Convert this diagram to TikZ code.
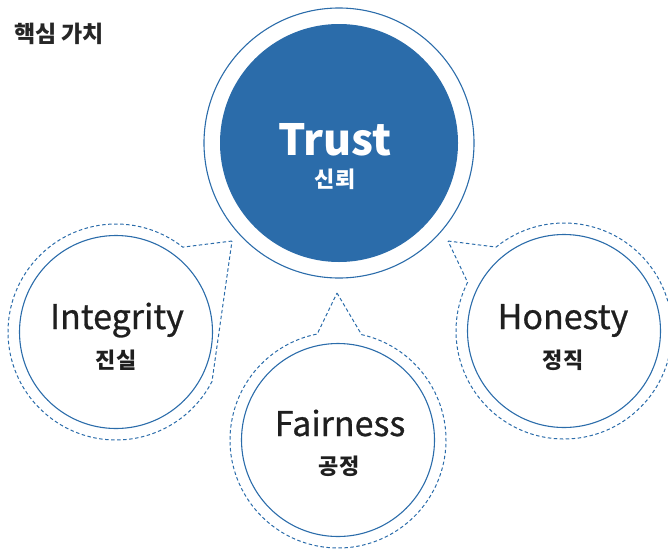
\documentclass[tikz,border=0pt]{standalone}
\usepackage{fontspec}
\setmainfont{Noto Sans CJK KR}
\newfontfamily\wordfont[FakeBold=0.8]{Noto Sans CJK KR}
\definecolor{valueblue}{RGB}{43,108,170}
\begin{document}
\begin{tikzpicture}[x=1pt,y=-1pt]
    \tikzstyle{ring}=[circle, draw=valueblue, line width=1.1pt, inner sep=0pt]
    \tikzstyle{bubble}=[draw=valueblue, line width=1pt, dash pattern=on 3.5pt off 2.5pt]
    \tikzstyle{word}=[anchor=base, inner sep=0pt, font=\wordfont\fontsize{34}{36}\selectfont]
    \tikzstyle{hangul}=[inner sep=0pt, font=\bfseries\fontsize{22}{24}\selectfont]
    \useasboundingbox (0,0) rectangle (668,549);
    % title
    \node [hangul, anchor=west, text=black!85, font=\bfseries\fontsize{23}{25}\selectfont] (title) at (14,34) {핵심 가치};
    % centre value
    \node [ring, minimum size=270pt] (trust) at (339,143) {};
    \node [circle, fill=valueblue, minimum size=238pt, inner sep=0pt] (trustcore) at (339,143) {};
    \node [word, text=white, font=\bfseries\fontsize{43}{45}\selectfont] (trustword) at (335,155) {Trust};
    \node [hangul, text=white] (trustko) at (335,179) {신뢰};
    % three values with dashed speech bubbles
    \node [ring, minimum size=193pt] (integrity) at (116,332) {};
    \node [ring, minimum size=193pt] (fairness) at (338,440) {};
    \node [ring, minimum size=193pt] (honesty) at (564,331) {};
    \coordinate (integritytip) at (232,241);
    \coordinate (fairnesstip) at (337,293);
    \coordinate (honestytip) at (448,241);
    \draw [bubble] (integritytip) -- ([shift={(-51.8:108)}]integrity.center)
        arc [start angle=-51.8, end angle=-332.7, radius=108] -- cycle;
    \draw [bubble] (fairnesstip) -- ([shift={(-77.4:108)}]fairness.center)
        arc [start angle=-77.4, end angle=258.9, radius=108] -- cycle;
    \draw [bubble] (honestytip) -- ([shift={(-129:108)}]honesty.center)
        arc [start angle=-129, end angle=206.8, radius=108] -- cycle;
    \node [word, text=black!88] (integrityword) at (117,329) {Integrity};
    \node [hangul, text=black!88] (integrityko) at (116,360) {진실};
    \node [word, text=black!88] (fairnessword) at (340,436) {Fairness};
    \node [hangul, text=black!88] (fairnessko) at (339,466) {공정};
    \node [word, text=black!88] (honestyword) at (563,329) {Honesty};
    \node [hangul, text=black!88] (honestyko) at (563,360) {정직};
\end{tikzpicture}
\end{document}
